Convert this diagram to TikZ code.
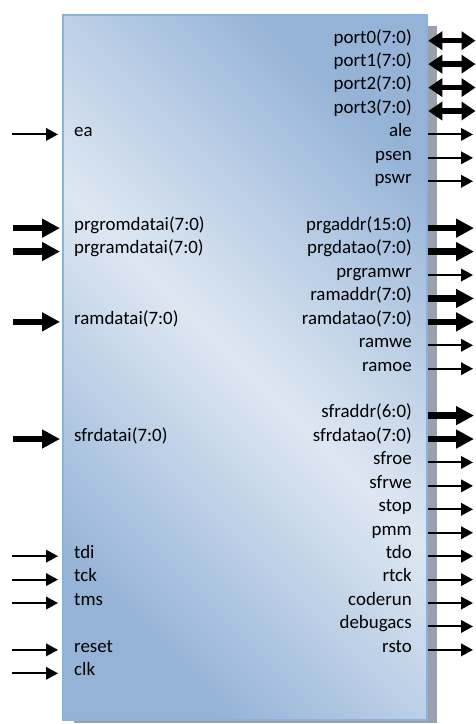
\documentclass[tikz,border=0pt]{standalone}
\usepackage{fontspec}
\setmainfont{Carlito}
\usetikzlibrary{arrows.meta}
\definecolor{boxdark}{RGB}{149,179,215}
\definecolor{boxlight}{RGB}{221,231,242}
\definecolor{boxedge}{RGB}{141,176,222}
\definecolor{shadowgrey}{RGB}{152,161,173}
\tikzset{
  lbl/.style={inner sep=0pt, font=\fontsize{18.9}{22}\selectfont},
  rlbl/.style={lbl, anchor=mid east},
  llbl/.style={lbl, anchor=mid west},
  thinarr/.style={line width=2pt, -{Triangle[length=12pt,width=12.5pt]}},
  thickarr/.style={line width=6.5pt, -{Triangle[length=18pt,width=18pt]}},
  biarr/.style={line width=5.5pt, {Triangle[length=14pt,width=18pt]}-{Triangle[length=14pt,width=18pt]}},
}
\begin{document}
\begin{tikzpicture}[x=1pt,y=-1pt]
\useasboundingbox (0,0) rectangle (475,724);
\fill[shadowgrey] (74,26) rectangle (437,723);
\node[draw=boxedge, line width=1.5pt, rectangle, minimum width=364pt, minimum height=705pt,
  anchor=north west, inner sep=0pt, top color=boxdark, bottom color=boxdark,
  middle color=boxlight, shading angle=-45] (core) at (62,14) {};
% right side
\foreach \k/\txt/\typ in {0/port0(7:0)/b,1/port1(7:0)/b,2/port2(7:0)/b,3/port3(7:0)/b,
  4/ale/t,5/psen/t,6/pswr/t,8/prgaddr(15:0)/k,9/prgdatao(7:0)/k,10/prgramwr/t,
  11/ramaddr(7:0)/k,12/ramdatao(7:0)/k,13/ramwe/t,14/ramoe/t,16/sfraddr(6:0)/k,
  17/sfrdatao(7:0)/k,18/sfroe/t,19/sfrwe/t,20/stop/t,21/pmm/t,22/tdo/t,23/rtck/t,
  24/coderun/t,25/debugacs/t,26/rsto/t}{
  \pgfmathsetmacro{\yy}{40.7+23.43*\k}
  \node[rlbl] (R\k) at (412,\yy) {\txt};
  \if\typ b
    \coordinate (RS\k) at (428.3,\yy);
    \coordinate (RE\k) at (475.5,\yy);
    \draw[biarr] (RS\k) -- (RE\k);
  \else\if\typ k
    \coordinate (RE\k) at (474,\yy);
    \draw[thickarr] (core.east |- RE\k) -- (RE\k);
  \else
    \coordinate (RE\k) at (473,\yy);
    \draw[thinarr] (core.east |- RE\k) -- (RE\k);
  \fi\fi
}
% left side
\foreach \k/\txt/\typ in {4/ea/t,8/prgromdatai(7:0)/k,9/prgramdatai(7:0)/k,12/ramdatai(7:0)/k,
  17/sfrdatai(7:0)/k,22/tdi/t,23/tck/t,24/tms/t,26/reset/t,27/clk/t}{
  \pgfmathsetmacro{\yy}{40.7+23.43*\k}
  \node[llbl] (L\k) at (74,\yy) {\txt};
  \if\typ k
    \coordinate (LS\k) at (13,\yy);
    \draw[thickarr, shorten >=2pt] (LS\k) -- (core.west |- LS\k);
  \else
    \coordinate (LS\k) at (12,\yy);
    \draw[thinarr, shorten >=4pt] (LS\k) -- (core.west |- LS\k);
  \fi
}
\end{tikzpicture}
\end{document}
